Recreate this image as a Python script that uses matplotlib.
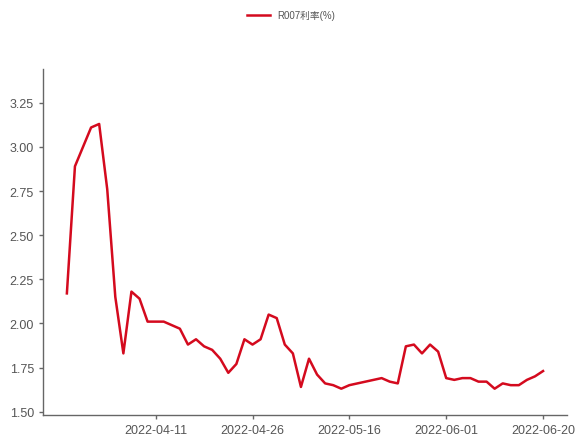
import matplotlib
matplotlib.use("Agg")
from matplotlib import pyplot as plt

# trading days (interbank), 2022-03-24 .. 2022-06-20
dates = [
    "2022-03-24", "2022-03-25", "2022-03-28", "2022-03-29", "2022-03-30",
    "2022-03-31", "2022-04-01", "2022-04-02", "2022-04-06", "2022-04-07",
    "2022-04-08", "2022-04-11", "2022-04-12", "2022-04-13", "2022-04-14",
    "2022-04-15", "2022-04-18", "2022-04-19", "2022-04-20", "2022-04-21",
    "2022-04-22", "2022-04-24", "2022-04-25", "2022-04-26", "2022-04-27",
    "2022-04-28", "2022-04-29", "2022-05-05", "2022-05-06", "2022-05-07",
    "2022-05-09", "2022-05-10", "2022-05-11", "2022-05-12", "2022-05-13",
    "2022-05-16", "2022-05-17", "2022-05-18", "2022-05-19", "2022-05-20",
    "2022-05-23", "2022-05-24", "2022-05-25", "2022-05-26", "2022-05-27",
    "2022-05-30", "2022-05-31", "2022-06-01", "2022-06-02", "2022-06-06",
    "2022-06-07", "2022-06-08", "2022-06-09", "2022-06-10", "2022-06-13",
    "2022-06-14", "2022-06-15", "2022-06-16", "2022-06-17", "2022-06-20",
]
r007 = [
    2.17, 2.89, 3.00, 3.11, 3.13, 2.76, 2.15, 1.83, 2.18, 2.14,
    2.01, 2.01, 2.01, 1.99, 1.97, 1.88, 1.91, 1.87, 1.85, 1.80,
    1.72, 1.77, 1.91, 1.88, 1.91, 2.05, 2.03, 1.88, 1.83, 1.64,
    1.80, 1.71, 1.66, 1.65, 1.63, 1.65, 1.66, 1.67, 1.68, 1.69,
    1.67, 1.66, 1.87, 1.88, 1.83, 1.88, 1.84, 1.69, 1.68, 1.69,
    1.69, 1.67, 1.67, 1.63, 1.66, 1.65, 1.65, 1.68, 1.70, 1.73,
]
yticks = [1.50, 1.75, 2.00, 2.25, 2.50, 2.75, 3.00, 3.25]

plt.rcParams['font.family'] = ['Liberation Sans', 'Noto Sans CJK SC', 'DejaVu Sans']

fig = plt.figure(figsize=(5.82, 4.39), dpi=100)
ax = fig.add_axes([0.074, 0.052, 0.9, 0.788])

line, = ax.plot(dates, r007, color='#d40a1e', linewidth=1.8, label='R007利率(%)')

# label every 12th trading day counting back from the last one
tick_idx = list(range(len(dates) - 1, -1, -12))[::-1]
tick_idx = [i for i in tick_idx if i >= 5]
ax.set_xticks(tick_idx)
ax.set_xticklabels([dates[i] for i in tick_idx])

ax.set_yticks(yticks)
ax.set_yticklabels(["%.2f" % v for v in yticks])
ax.set_ylim(1.48, 3.44)

for side in ['top', 'right']:
    ax.spines[side].set_visible(False)
for side in ['left', 'bottom']:
    ax.spines[side].set_color('#666666')
    ax.spines[side].set_linewidth(1.0)
ax.tick_params(axis='both', colors='#666666', labelcolor='#555555',
               labelsize=9, length=3, width=1)

fig.legend(handles=[line], loc='upper center', bbox_to_anchor=(0.5, 0.995),
           frameon=False, fontsize=7, handlelength=2.4, labelcolor='#555555')

fig.savefig('out.png', dpi=100)
